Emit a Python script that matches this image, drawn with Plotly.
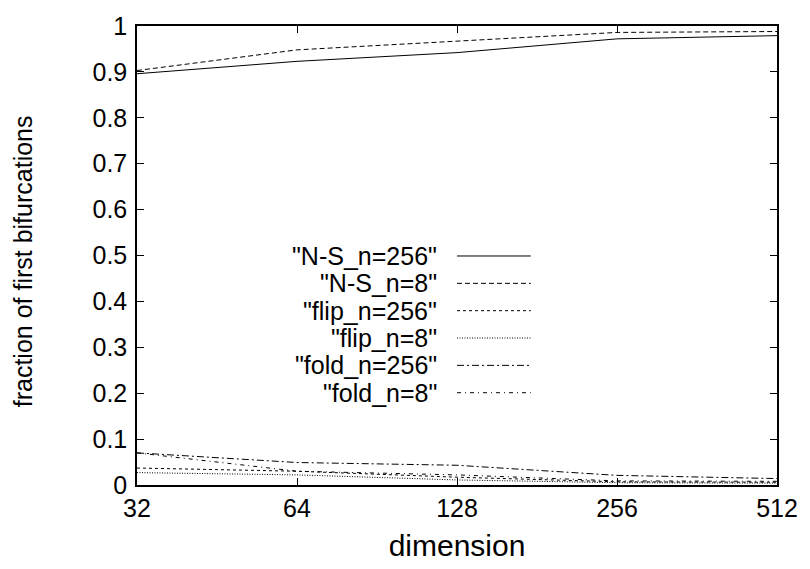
import plotly.graph_objects as go

dimension = [32, 64, 128, 256, 512]
ns_256 = [0.896, 0.923, 0.942, 0.972, 0.979]
ns_8 = [0.903, 0.948, 0.967, 0.986, 0.988]
flip_256 = [0.037, 0.030, 0.017, 0.007, 0.006]
flip_8 = [0.027, 0.022, 0.011, 0.005, 0.004]
fold_256 = [0.070, 0.049, 0.043, 0.021, 0.014]
fold_8 = [0.070, 0.030, 0.022, 0.009, 0.008]

names = ['"N-S_n=256"', '"N-S_n=8"', '"flip_n=256"', '"flip_n=8"', '"fold_n=256"', '"fold_n=8"']
series = [ns_256, ns_8, flip_256, flip_8, fold_256, fold_8]
dashes = ["solid", "5px,3px", "3px,3px", "1px,1.5px", "7px,3px,2px,3px", "4px,4px,1px,4px"]

W, H = 810, 569
L, R, T, B = 137, 779, 20, 485
FONT = "Liberation Sans, Arial, sans-serif"
FS = 25

fig = go.Figure()
for name, ys, d in zip(names, series, dashes):
    fig.add_trace(go.Scatter(x=dimension, y=ys, mode="lines", name=name,
                             line=dict(color="black", width=1, dash=d),
                             showlegend=False))

def px2paper(px, py):
    return (px - L) / (R - L), (B - py) / (B - T)

shapes = []
annotations = []
for i, (name, d) in enumerate(zip(names, dashes)):
    py = 253 + 27.7 * i
    x0, y0 = px2paper(458, py)
    x1, _ = px2paper(532, py)
    xt, _ = px2paper(440, py)
    shapes.append(dict(type="line", xref="paper", yref="paper", x0=x0, x1=x1, y0=y0, y1=y0,
                       line=dict(color="black", width=1, dash=d)))
    annotations.append(dict(text=name, xref="paper", yref="paper", x=xt, y=y0,
                            xanchor="right", yanchor="middle", showarrow=False,
                            font=dict(family=FONT, size=FS, color="black")))

tx, ty = px2paper(23, 258)
annotations.append(dict(text="fraction of first bifurcations", xref="paper", yref="paper",
                        x=tx, y=ty, xanchor="center", yanchor="middle", textangle=-90,
                        showarrow=False, font=dict(family=FONT, size=FS, color="black")))

fig.update_layout(
    width=W, height=H,
    margin=dict(l=L, r=W - R, t=T, b=H - B),
    plot_bgcolor="white", paper_bgcolor="white",
    font=dict(family=FONT, size=FS, color="black"),
    shapes=shapes, annotations=annotations,
    xaxis=dict(type="log", range=[1.50515, 2.70927], tickvals=dimension,
               ticktext=[str(v) for v in dimension],
               ticks="inside", ticklen=7, tickcolor="black", showline=True,
               linecolor="black", linewidth=1.5, mirror="ticks", showgrid=False,
               zeroline=False, title=dict(text="dimension", standoff=14)),
    yaxis=dict(range=[0, 1], tickvals=[i / 10 for i in range(11)],
               ticktext=["0"] + ["0.%d" % i for i in range(1, 10)] + ["1"],
               ticks="inside", ticklen=7, tickcolor="black", showline=True,
               linecolor="black", linewidth=1.5, mirror="ticks", showgrid=False,
               zeroline=False, ticklabelstandoff=3),
)

fig.write_html("out.html")
